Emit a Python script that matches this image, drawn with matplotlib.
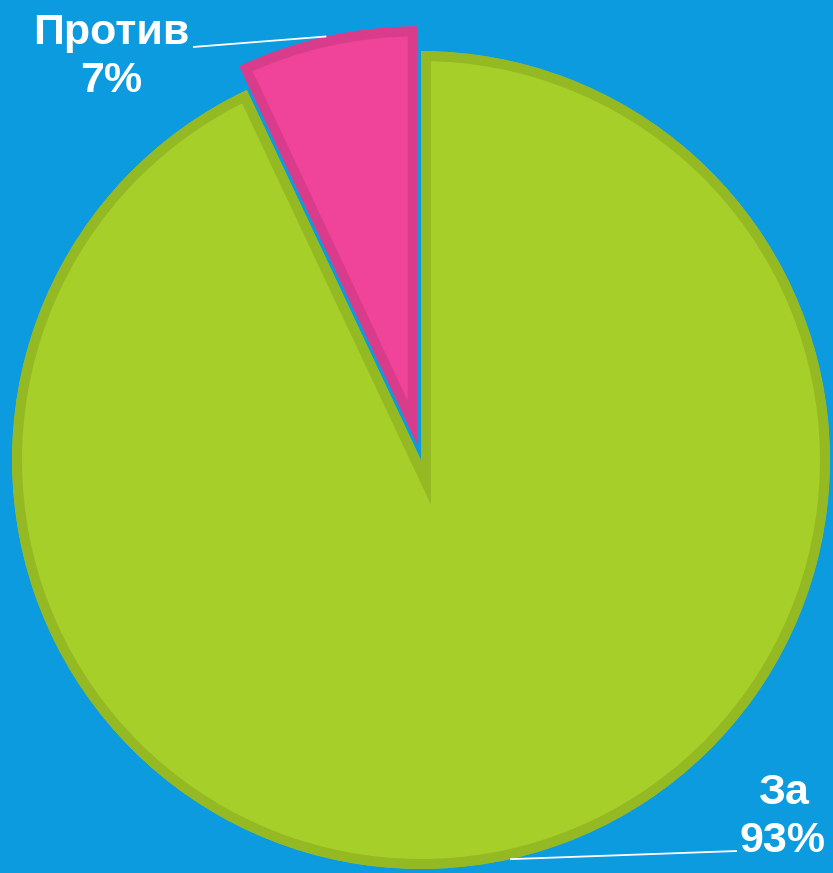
import numpy as np
import matplotlib.pyplot as plt

# data
labels = ['За', 'Против']
values = [93, 7]
pct_labels = ['93%', '7%']

bg = '#0c9bdf'
fills = ['#a6cf2a', '#f0439a']
edges = ['#94b923', '#d93c8a']

W, H = 833, 873
fig = plt.figure(figsize=(W / 100, H / 100), dpi=100, facecolor=bg)
ax = fig.add_axes([0, 0, 1, 1])
ax.set_facecolor(bg)

R = 409
cx, cy = 421, H - 460
wedges, _ = ax.pie(values, colors=fills, startangle=90, counterclock=False,
                   explode=[0, 15], radius=R, center=(cx, cy),
                   wedgeprops=dict(linewidth=14.4))
# the pink slice sits a touch larger than the green one
wedges[1].set_radius(419)

for w, ec in zip(wedges, edges):
    w.set_edgecolor(ec)
    w.set_joinstyle('miter')
    w.set_clip_on(True)
    w.set_clip_path(w)   # keep the outline inside the slice

ax.set_xlim(0, W)
ax.set_ylim(0, H)
ax.set_aspect('equal')
ax.axis('off')

# labels with leader lines from the middle of each arc
txt_pos = [(783, H - 852), (111, H - 92)]
line_end = [(737, H - 851), (193, H - 47)]
for w, lab, pct, (tx, ty), (lx, ly) in zip(wedges, labels, pct_labels,
                                           txt_pos, line_end):
    mid = np.deg2rad((w.theta1 + w.theta2) / 2)
    px = w.center[0] + w.r * np.cos(mid)
    py = w.center[1] + w.r * np.sin(mid)
    ax.plot([px, lx], [py, ly], color='white', lw=1.3, solid_capstyle='butt')
    ax.text(tx, ty, lab + '\n' + pct, color='white', fontsize=31,
            fontweight='bold', family='Liberation Sans', ha='center',
            va='baseline', linespacing=1.26, multialignment='center')

fig.savefig('out.png', dpi=100, facecolor=bg)
